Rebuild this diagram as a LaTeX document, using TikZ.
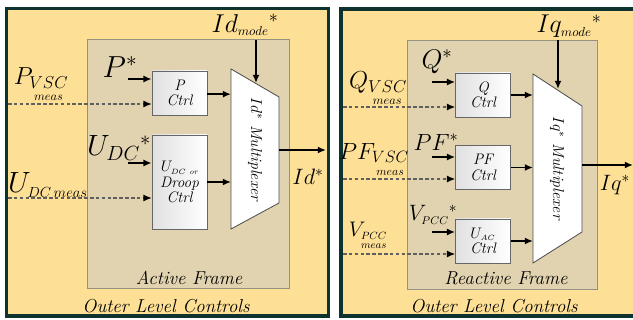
\RequirePackage{fix-cm}
\documentclass[tikz,border=0pt]{standalone}
\usepackage{amsmath}
\usepackage{tikz}
\usetikzlibrary{arrows.meta, positioning, calc}
\definecolor{panelyellow}{RGB}{253,223,150}
\definecolor{frametan}{RGB}{225,211,175}
\definecolor{panelborder}{RGB}{14,50,46}
\definecolor{frameborder}{RGB}{150,146,128}
\definecolor{measgray}{RGB}{95,95,95}

\newcommand{\fsz}[1]{\fontsize{#1}{#1}\selectfont}
\newcommand{\meassub}[1]{\underset{\rule{0pt}{8pt}meas}{#1}}

\tikzset{
  panel/.style={fill=panelyellow, draw=panelborder, line width=2.6pt},
  frame/.style={fill=frametan, draw=frameborder, line width=0.8pt},
  ctrlbox/.style={draw=black!60, left color=black!12, right color=white, line width=0.6pt,
    minimum width=1.65cm, minimum height=1.32cm, align=center, inner sep=1pt,
    font=\fsz{13}\itshape},
  muxbox/.style={fill=white, draw=black!70, line width=0.7pt},
  muxtext/.style={rotate=-90, font=\fsz{13.5}\itshape},
  sigarrow/.style={-{Latex[length=7pt,width=6pt]}, line width=1.4pt},
  measline/.style={-{Latex[length=7pt,width=6pt,color=black]}, densely dashed, draw=measgray, line width=1pt},
  biglabel/.style={inner sep=0pt},
  frametitle/.style={font=\fsz{16}\itshape, inner sep=0pt}
}

\begin{document}
\begin{tikzpicture}[x=0.03cm, y=-0.03cm]
    \useasboundingbox (0,0) rectangle (633,320);
    \clip (0,0) rectangle (633,320);

    % Panels
    \draw[panel] (6.5,8.5) rectangle (328.5,316);
    \draw[panel] (341,9) rectangle (660,316);

    % Frames
    \draw[frame] (87,39) rectangle (289,288);
    \draw[frame] (407,40) rectangle (597,289);

    % Titles
    \node[frametitle] (actframe) at (189,278) {Active Frame};
    \node[frametitle] (outerleft) at (166,306) {Outer Level Controls};
    \node[frametitle] (reactframe) at (506,278) {Reactive Frame};
    \node[frametitle] (outerright) at (494,306) {Outer Level Controls};

    % Active side: controllers
    \node[ctrlbox] (pctrl) at (179.5,93) {P\\Ctrl};
    \node[ctrlbox, minimum height=2.82cm] (udcctrl) at (179.5,182) {$U_{\scriptscriptstyle DC\text{ or}}$\\Droop\\Ctrl};

    % Id multiplexer
    \draw[muxbox] (231,69) -- (279,97) -- (279,203) -- (231,229) -- cycle;
    \node[muxtext] (idmux) at (255,149) {$Id^{*}$ Multiplexer};
    \coordinate (idmuxin) at (231,149);
    \coordinate (idmuxout) at (279,150);
    \coordinate (idmodetip) at (256,83);

    % Active side: labels
    \node[biglabel, font=\fsz{22}] (idmode) at (245,25) {$Id_{\scriptscriptstyle mode}{}^{*}$};
    \node[biglabel, font=\fsz{26}] (pstar) at (120,67) {$P^{*}$};
    \node[biglabel, font=\fsz{21}] (pvsc) at (41,85) {$P_{\meassub{VSC}}$};
    \node[biglabel, font=\fsz{25}] (udcstar) at (119,148) {$U_{DC}{}^{*}$};
    \node[biglabel, font=\fsz{25}] (udcmeas) at (48,185) {$U_{\scriptscriptstyle DC\,meas}$};
    \node[biglabel, font=\fsz{19}] (idstar) at (308,177) {$Id^{*}$};

    % Active side: signals
    \coordinate (pin) at (128,79);
    \coordinate (pmeas) at (8,104);
    \coordinate (udcin) at (128,163);
    \coordinate (udcm) at (8,198);
    \coordinate (idend) at (326,150);
    \draw[sigarrow] (256,40) -- (idmodetip);
    \draw[sigarrow] (pin) -- (pin -| pctrl.west);
    \draw[measline] (pmeas) -- (pmeas -| pctrl.west);
    \draw[sigarrow] ([yshift=-1pt]pctrl.east) -- ([yshift=-1pt]pctrl.east -| idmuxin);
    \draw[sigarrow] (udcin) -- (udcin -| udcctrl.west);
    \draw[measline] (udcm) -- (udcm -| udcctrl.west);
    \draw[sigarrow] (udcctrl.east) -- (udcctrl.east -| idmuxin);
    \draw[sigarrow] (idmuxout) -- (idend);

    % Reactive side: controllers
    \node[ctrlbox] (qctrl) at (483,95) {Q\\Ctrl};
    \node[ctrlbox] (pfctrl) at (483,167.5) {PF\\Ctrl};
    \node[ctrlbox] (uacctrl) at (483,241) {$U_{\scriptscriptstyle AC}$\\Ctrl};

    % Iq multiplexer
    \draw[muxbox] (533,74) -- (582,106) -- (582,232) -- (533,263) -- cycle;
    \node[muxtext] (iqmux) at (557,168) {$Iq^{*}$ Multiplexer};
    \coordinate (iqmuxin) at (533,168);
    \coordinate (iqmuxout) at (582,165);
    \coordinate (iqmodetip) at (558,89);

    % Reactive side: labels
    \node[biglabel, font=\fsz{22}] (iqmode) at (569,26) {$Iq_{\scriptscriptstyle mode}{}^{*}$};
    \node[biglabel, font=\fsz{23}] (qstar) at (437,62) {$Q^{*}$};
    \node[biglabel, font=\fsz{21}] (qvsc) at (378,89) {$Q_{\meassub{VSC}}$};
    \node[biglabel, font=\fsz{20}] (pfstar) at (436,142) {$PF^{*}$};
    \node[biglabel, font=\fsz{20}] (pfvsc) at (374,160) {$PF_{\meassub{VSC}}$};
    \node[biglabel, font=\fsz{19}] (vstar) at (433,215) {$V_{\scriptscriptstyle PCC}{}^{*}$};
    \node[biglabel, font=\fsz{18}] (vpcc) at (368,236) {$V_{\underset{\rule{0pt}{6pt}\scriptscriptstyle meas}{\scriptscriptstyle PCC}}$};
    \node[biglabel, font=\fsz{19}] (iqstar) at (615,185) {$Iq^{*}$};

    % Reactive side: signals
    \coordinate (qin) at (432,82);
    \coordinate (qmeas) at (343,107);
    \coordinate (pfin) at (432,157);
    \coordinate (pfmeas) at (343,179);
    \coordinate (vin) at (432,232);
    \coordinate (vmeas) at (343,254);
    \coordinate (iqend) at (633,165);
    \draw[sigarrow] (558,40) -- (iqmodetip);
    \draw[sigarrow] (qin) -- (qin -| qctrl.west);
    \draw[measline] (qmeas) -- (qmeas -| qctrl.west);
    \draw[sigarrow] (qctrl.east) -- (qctrl.east -| iqmuxin);
    \draw[sigarrow] (pfin) -- (pfin -| pfctrl.west);
    \draw[measline] (pfmeas) -- (pfmeas -| pfctrl.west);
    \draw[sigarrow] (pfctrl.east) -- (pfctrl.east -| iqmuxin);
    \draw[sigarrow] (vin) -- (vin -| uacctrl.west);
    \draw[measline] (vmeas) -- (vmeas -| uacctrl.west);
    \draw[sigarrow] (uacctrl.east) -- (uacctrl.east -| iqmuxin);
    \draw[sigarrow] (iqmuxout) -- (iqend);
\end{tikzpicture}
\end{document}
